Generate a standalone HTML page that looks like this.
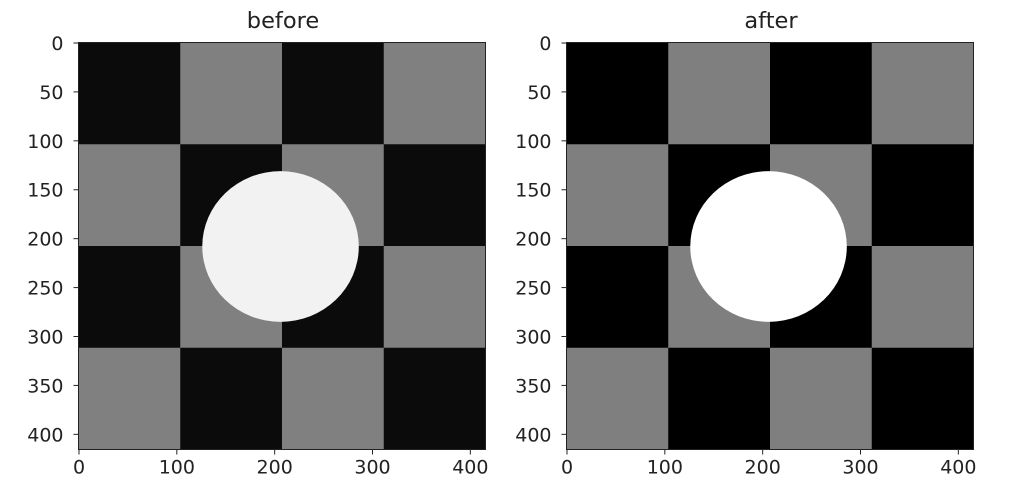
<!DOCTYPE html>
<html><head><meta charset="utf-8"><style>
body{margin:0;background:#fff;}
svg text{font-family:"DejaVu Sans","Liberation Sans",sans-serif;fill:#222;}
</style></head><body>
<svg id="chart" width="1012" height="494" xmlns="http://www.w3.org/2000/svg"></svg>
<script>
const imageSize = [416];
const squareSize = [104];
const circle = [206, 208, 80, 77];
const ticks = [0, 50, 100, 150, 200, 250, 300, 350, 400];
const panelTitles = ["before", "after"];
const darkLevels = ["#0b0b0b", "#000000"];
const grayLevels = ["#808080", "#7f7f7f"];
const circleLevels = ["#f2f2f2", "#ffffff"];
const panelLefts = [78.5, 566.5];
const top0 = 42.5, W = 407;
const NS = "http://www.w3.org/2000/svg";
const svg = document.getElementById('chart');
function mk(tag, attrs, parent){const e=document.createElementNS(NS,tag);for(const k in attrs)e.setAttribute(k,attrs[k]);(parent||svg).appendChild(e);return e;}
const N = imageSize[0], k = W / N;
panelTitles.forEach((t, p) => {
  const L = panelLefts[p];
  const sx = v => L + (v + 0.5) * k;
  const sy = v => top0 + (v + 0.5) * k;
  const g = mk('g', {});
  
  
  const n = N / squareSize[0];
  for (let i = 0; i < n; i++) for (let j = 0; j < n; j++) {
    const r = mk('rect', {x: L + j*squareSize[0]*k, y: top0 + i*squareSize[0]*k, width: squareSize[0]*k + 0.3, height: squareSize[0]*k + 0.3, fill: (i + j) % 2 === 0 ? darkLevels[p] : grayLevels[p]}, g);
    
    
  }
  const c = mk('ellipse', {cx: sx(circle[0]), cy: sy(circle[1]), rx: circle[2]*k, ry: circle[3]*k, fill: circleLevels[p]}, g);
  
  
  const fr = mk('rect', {x: L, y: top0, width: W, height: W, fill: 'none', stroke: '#222', 'stroke-width': 1}, g);
  
  
  ticks.forEach(v => {
    const x = sx(v), y = sy(v);
    if (v % 100 === 0) {
      mk('line', {x1: x, x2: x, y1: top0 + W, y2: top0 + W + 5, stroke: '#222'}, g);
      const tx = mk('text', {x: x, y: top0 + W + 24, 'font-size': 19, 'text-anchor': 'middle'}, g);
      tx.textContent = v;
      
      
    }
    mk('line', {x1: L - 5, x2: L, y1: y, y2: y, stroke: '#222'}, g);
    const ty = mk('text', {x: L - 15, y: y + 7, 'font-size': 19, 'text-anchor': 'end'}, g);
    ty.textContent = v;
    
    
  });
  const tt = mk('text', {x: L + W/2 + 1, y: 28, 'font-size': 22.5, 'text-anchor': 'middle'}, g);
  tt.textContent = t;
  
  
});
</script>
</body></html>
